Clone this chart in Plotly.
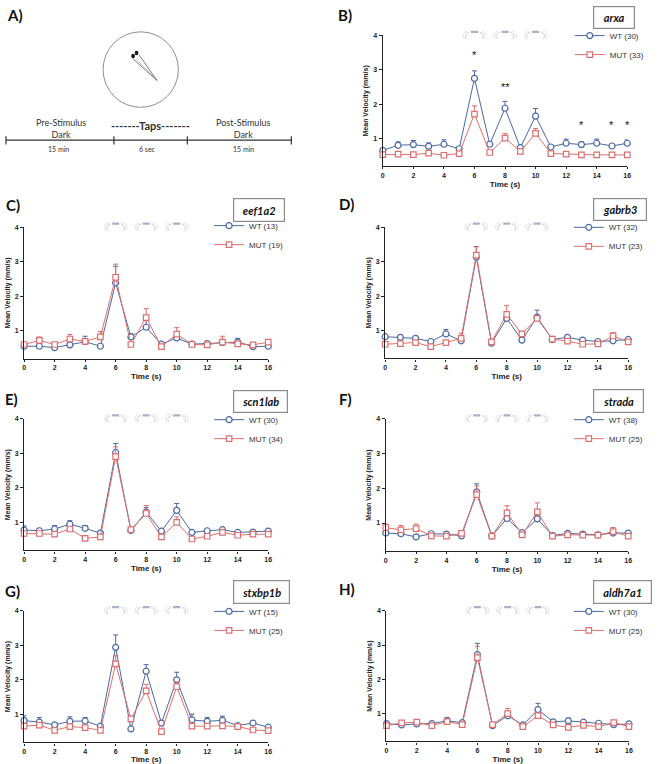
import plotly.graph_objects as go

# ---------------- data ----------------
time_s = list(range(17))
tap_times = [6, 8, 10]

genes = ["arxa", "eef1a2", "gabrb3", "scn1lab", "strada", "stxbp1b", "aldh7a1"]
panel_letters = ["B)", "C)", "D)", "E)", "F)", "G)", "H)"]
wt_n = [30, 13, 32, 30, 38, 15, 30]
mut_n = [33, 19, 23, 34, 25, 25, 25]

arxa_wt = [0.65, 0.80, 0.82, 0.77, 0.83, 0.70, 2.75, 0.83, 1.88, 0.73, 1.65, 0.75, 0.86, 0.82, 0.86, 0.78, 0.86]
arxa_wt_sem = [0.05, 0.10, 0.12, 0.10, 0.13, 0.05, 0.22, 0.07, 0.20, 0.06, 0.22, 0.05, 0.12, 0.08, 0.12, 0.05, 0.10]
arxa_mut = [0.53, 0.54, 0.53, 0.57, 0.51, 0.56, 1.71, 0.59, 1.01, 0.62, 1.15, 0.56, 0.54, 0.52, 0.52, 0.52, 0.52]
arxa_mut_sem = [0.03, 0.03, 0.03, 0.03, 0.03, 0.03, 0.24, 0.03, 0.13, 0.03, 0.14, 0.03, 0.03, 0.03, 0.03, 0.03, 0.03]

eef1a2_wt = [0.55, 0.55, 0.51, 0.59, 0.68, 0.55, 2.39, 0.82, 1.10, 0.61, 0.79, 0.61, 0.63, 0.66, 0.67, 0.54, 0.55]
eef1a2_wt_sem = [0.03, 0.03, 0.03, 0.04, 0.16, 0.04, 0.48, 0.09, 0.20, 0.04, 0.07, 0.08, 0.06, 0.06, 0.11, 0.03, 0.05]
eef1a2_mut = [0.60, 0.72, 0.60, 0.76, 0.69, 0.82, 2.55, 0.60, 1.38, 0.54, 0.90, 0.60, 0.59, 0.67, 0.62, 0.59, 0.67]
eef1a2_mut_sem = [0.03, 0.10, 0.03, 0.13, 0.05, 0.16, 0.38, 0.05, 0.26, 0.03, 0.19, 0.04, 0.04, 0.17, 0.06, 0.03, 0.06]

gabrb3_wt = [0.82, 0.80, 0.77, 0.68, 0.90, 0.70, 3.13, 0.63, 1.35, 0.72, 1.39, 0.74, 0.80, 0.72, 0.68, 0.70, 0.74]
gabrb3_wt_sem = [0.04, 0.06, 0.04, 0.03, 0.13, 0.03, 0.31, 0.03, 0.20, 0.03, 0.20, 0.03, 0.05, 0.03, 0.03, 0.03, 0.04]
gabrb3_mut = [0.60, 0.62, 0.65, 0.53, 0.65, 0.77, 3.19, 0.67, 1.47, 0.90, 1.35, 0.75, 0.69, 0.60, 0.61, 0.84, 0.67]
gabrb3_mut_sem = [0.03, 0.03, 0.03, 0.03, 0.03, 0.15, 0.24, 0.04, 0.26, 0.05, 0.05, 0.03, 0.03, 0.03, 0.03, 0.10, 0.03]

scn1lab_wt = [0.78, 0.76, 0.81, 0.95, 0.83, 0.69, 3.03, 0.77, 1.30, 0.75, 1.35, 0.71, 0.76, 0.79, 0.71, 0.72, 0.75]
scn1lab_wt_sem = [0.12, 0.07, 0.10, 0.10, 0.08, 0.04, 0.26, 0.03, 0.13, 0.05, 0.20, 0.04, 0.05, 0.05, 0.04, 0.05, 0.05]
scn1lab_mut = [0.68, 0.68, 0.66, 0.81, 0.54, 0.58, 2.91, 0.79, 1.26, 0.58, 1.00, 0.52, 0.60, 0.71, 0.63, 0.66, 0.66]
scn1lab_mut_sem = [0.03, 0.03, 0.03, 0.03, 0.03, 0.03, 0.28, 0.03, 0.23, 0.03, 0.16, 0.03, 0.03, 0.03, 0.03, 0.03, 0.03]

strada_wt = [0.71, 0.69, 0.60, 0.69, 0.68, 0.63, 1.90, 0.63, 1.13, 0.72, 1.12, 0.64, 0.70, 0.68, 0.66, 0.71, 0.71]
strada_wt_sem = [0.04, 0.04, 0.03, 0.05, 0.05, 0.03, 0.23, 0.03, 0.10, 0.04, 0.08, 0.03, 0.05, 0.04, 0.04, 0.05, 0.06]
strada_mut = [0.87, 0.80, 0.84, 0.63, 0.62, 0.70, 1.82, 0.62, 1.29, 0.66, 1.32, 0.62, 0.66, 0.65, 0.65, 0.75, 0.62]
strada_mut_sem = [0.10, 0.13, 0.13, 0.03, 0.03, 0.05, 0.25, 0.03, 0.21, 0.03, 0.26, 0.03, 0.03, 0.03, 0.03, 0.12, 0.03]

stxbp1b_wt = [0.82, 0.78, 0.70, 0.80, 0.81, 0.66, 2.94, 0.58, 2.25, 0.75, 2.00, 0.84, 0.80, 0.83, 0.68, 0.75, 0.63]
stxbp1b_wt_sem = [0.14, 0.13, 0.05, 0.13, 0.10, 0.03, 0.36, 0.03, 0.19, 0.05, 0.22, 0.17, 0.11, 0.12, 0.04, 0.03, 0.03]
stxbp1b_mut = [0.66, 0.69, 0.54, 0.65, 0.62, 0.54, 2.46, 0.87, 1.68, 0.50, 1.80, 0.66, 0.66, 0.67, 0.65, 0.55, 0.53]
stxbp1b_mut_sem = [0.03, 0.03, 0.03, 0.03, 0.06, 0.03, 0.24, 0.06, 0.19, 0.03, 0.14, 0.03, 0.03, 0.03, 0.03, 0.03, 0.03]

aldh7a1_wt = [0.71, 0.67, 0.70, 0.71, 0.79, 0.74, 2.72, 0.65, 0.94, 0.67, 1.12, 0.76, 0.79, 0.75, 0.72, 0.68, 0.70]
aldh7a1_wt_sem = [0.06, 0.04, 0.04, 0.04, 0.10, 0.03, 0.33, 0.03, 0.12, 0.03, 0.18, 0.04, 0.08, 0.04, 0.03, 0.03, 0.04]
aldh7a1_mut = [0.65, 0.73, 0.75, 0.65, 0.77, 0.68, 2.63, 0.68, 1.00, 0.62, 0.94, 0.67, 0.60, 0.66, 0.62, 0.74, 0.62]
aldh7a1_mut_sem = [0.03, 0.03, 0.03, 0.03, 0.03, 0.03, 0.33, 0.03, 0.15, 0.03, 0.08, 0.03, 0.03, 0.03, 0.03, 0.03, 0.03]

arxa_sig_x = [6, 8, 13, 15, 16]
arxa_sig_y = [3.42, 2.5, 1.38, 1.38, 1.38]
arxa_sig_text = ["*", "**", "*", "*", "*"]

wt_series = [arxa_wt, eef1a2_wt, gabrb3_wt, scn1lab_wt, strada_wt, stxbp1b_wt, aldh7a1_wt]
wt_sems = [arxa_wt_sem, eef1a2_wt_sem, gabrb3_wt_sem, scn1lab_wt_sem, strada_wt_sem, stxbp1b_wt_sem, aldh7a1_wt_sem]
mut_series = [arxa_mut, eef1a2_mut, gabrb3_mut, scn1lab_mut, strada_mut, stxbp1b_mut, aldh7a1_mut]
mut_sems = [arxa_mut_sem, eef1a2_mut_sem, gabrb3_mut_sem, scn1lab_mut_sem, strada_mut_sem, stxbp1b_mut_sem, aldh7a1_mut_sem]

# ---------------- layout / style ----------------
W, H = 658, 764
WT_COLOR = "#4a68a3"
MUT_COLOR = "#dd6f6f"
AXIS_FONT = "Liberation Sans, Arial, sans-serif"
LABEL_FONT = "Lato, Open Sans, sans-serif"


def fx(p):
    return p / W


def fy(p):
    return 1 - p / H


# plot area pixel boxes: left, right, top, bottom
panel_px = [
    (384.3, 631.0, 31.7, 163.3),
    (22.3, 268.7, 224.7, 357.0),
    (386.7, 632.0, 224.7, 356.7),
    (22.3, 268.7, 417.7, 550.0),
    (387.3, 632.0, 417.7, 550.7),
    (22.3, 268.7, 610.7, 743.3),
    (388.0, 632.7, 610.7, 742.3),
]
# gene name box: left, right, top, bottom
box_px = [
    (597, 639, 2, 25),
    (233, 285, 195, 219),
    (597, 651, 195, 218),
    (233, 288, 389, 412),
    (597, 648, 388, 412),
    (233, 290, 580, 604),
    (597, 656, 580, 604),
]
# legend text start x, first-row centre y
legend_px = [
    (608, 32.7),
    (244, 224),
    (607, 225.7),
    (244, 419.3),
    (607, 419.3),
    (244, 612.3),
    (607, 612.3),
]
# panel letter left, centre y
letter_px = [(337, 11), (2, 202), (338, 201), (1, 398), (338, 398), (1, 591), (338, 589)]

fig = go.Figure()
shapes = []
annotations = []
layout_extra = {}

for i, gene in enumerate(genes):
    n = i + 1
    xa = "x" if n == 1 else f"x{n}"
    ya = "y" if n == 1 else f"y{n}"
    lg = "legend" if n == 1 else f"legend{n}"
    l, r, t, b = panel_px[i]

    fig.add_trace(go.Scatter(
        x=time_s, y=wt_series[i], xaxis=xa, yaxis=ya, legend=lg,
        name=f"WT ({wt_n[i]})", mode="lines+markers", cliponaxis=False,
        line=dict(color=WT_COLOR, width=1),
        marker=dict(symbol="circle", size=6, color="white", line=dict(color=WT_COLOR, width=1.2)),
        error_y=dict(type="data", symmetric=False, array=wt_sems[i], arrayminus=[0] * len(time_s),
                     color=WT_COLOR, thickness=1, width=2.5),
    ))
    fig.add_trace(go.Scatter(
        x=time_s, y=mut_series[i], xaxis=xa, yaxis=ya, legend=lg,
        name=f"MUT ({mut_n[i]})", mode="lines+markers", cliponaxis=False,
        line=dict(color=MUT_COLOR, width=1),
        marker=dict(symbol="square", size=5.5, color="white", line=dict(color=MUT_COLOR, width=1.2)),
        error_y=dict(type="data", symmetric=False, array=mut_sems[i], arrayminus=[0] * len(time_s),
                     color=MUT_COLOR, thickness=1, width=2.5),
    ))

    xkey = "xaxis" if n == 1 else f"xaxis{n}"
    ykey = "yaxis" if n == 1 else f"yaxis{n}"
    layout_extra[xkey] = dict(
        domain=[fx(l), fx(r)], anchor=ya, range=[0, 16],
        tickvals=list(range(0, 17, 2)), ticks="outside", ticklen=2, tickwidth=1,
        tickcolor="#222", showline=True, linewidth=1.3, linecolor="#222",
        showgrid=False, zeroline=False,
        tickfont=dict(family=AXIS_FONT, size=7, color="#222", weight="bold"),
        title=dict(text="Time (s)", standoff=3,
                   font=dict(family=AXIS_FONT, size=8, color="#222", weight="bold")),
    )
    layout_extra[ykey] = dict(
        domain=[fy(b), fy(t)], anchor=xa, range=[0.19, 4],
        tickvals=[1, 2, 3, 4], ticks="outside", ticklen=3, tickwidth=1,
        tickcolor="#222", showline=True, linewidth=1.3, linecolor="#222",
        showgrid=False, zeroline=False,
        tickfont=dict(family=AXIS_FONT, size=7, color="#222", weight="bold"),
        title=dict(text="Mean Velocity (mm/s)", standoff=3,
                   font=dict(family=AXIS_FONT, size=7, color="#222", weight="bold")),
    )

    tx0, my = legend_px[i]
    layout_extra[lg] = dict(
        x=fx(tx0 - 35), y=fy(my - 15.5), xanchor="left", yanchor="top",
        bgcolor="rgba(0,0,0,0)", borderwidth=0, itemwidth=30, tracegroupgap=0,
        font=dict(family=AXIS_FONT, size=8, color="#333"),
    )

    # gene name box
    bl, br, bt, bb = box_px[i]
    annotations.append(dict(
        xref="paper", yref="paper", x=fx((bl + br) / 2), y=fy((bt + bb) / 2),
        xanchor="center", yanchor="middle", showarrow=False,
        text=gene, width=br - bl - 2, height=bb - bt - 2, borderpad=0,
        bordercolor="#8c8c8c", borderwidth=1.2, bgcolor="white",
        font=dict(family=LABEL_FONT, size=11, color="#111", weight="bold", style="italic"),
    ))
    # panel letter
    lx, ly = letter_px[i]
    annotations.append(dict(
        xref="paper", yref="paper", x=fx(lx), y=fy(ly), xanchor="left", yanchor="middle",
        showarrow=False, text=panel_letters[i],
        font=dict(family=LABEL_FONT, size=15, color="#111", weight="bold"),
    ))

    # tap icons above each tap time
    yd = f"{ya} domain"
    h_dom = b - t
    for tt in tap_times:
        shapes.append(dict(
            type="rect", xref=xa, yref=yd, x0=tt - 0.23, x1=tt + 0.23,
            y0=1 + 2.4 / h_dom, y1=1 + 4.8 / h_dom,
            fillcolor="#a9b3c5", line=dict(width=0),
        ))
        for sgn in (-1, 1):
            path = (f"M {tt + sgn * 0.33},{1 + 3.6 / h_dom} "
                    f"Q {tt + sgn * 0.75},{1 + 1.0 / h_dom} {tt + sgn * 0.5},{1 - 3.2 / h_dom}")
            shapes.append(dict(type="path", xref=xa, yref=yd, path=path,
                               line=dict(color="#cdcdcd", width=1)))
            path2 = (f"M {tt + sgn * 0.45},{1 + 5.0 / h_dom} "
                     f"Q {tt + sgn * 0.95},{1 + 1.5 / h_dom} {tt + sgn * 0.62},{1 - 3.6 / h_dom}")
            shapes.append(dict(type="path", xref=xa, yref=yd, path=path2,
                               line=dict(color="#dedede", width=0.8)))

# significance marks (arxa)
for sx, sy, st in zip(arxa_sig_x, arxa_sig_y, arxa_sig_text):
    annotations.append(dict(
        xref="x", yref="y", x=sx, y=sy, text=st, showarrow=False,
        xanchor="center", yanchor="middle",
        font=dict(family=AXIS_FONT, size=11, color="#111"),
    ))

# ---------------- panel A schematic ----------------
annotations.append(dict(
    xref="paper", yref="paper", x=fx(3), y=fy(11), xanchor="left", yanchor="middle",
    showarrow=False, text="A)", font=dict(family=LABEL_FONT, size=15, color="#111", weight="bold"),
))
shapes.append(dict(type="circle", xref="paper", yref="paper",
                   x0=fx(102), x1=fx(178), y0=fy(104), y1=fy(28),
                   line=dict(color="#8f8f8f", width=1)))
# larva
shapes.append(dict(type="path", xref="paper", yref="paper",
                   path=f"M {fx(132)},{fy(55)} L {fx(156.5)},{fy(77)} L {fx(138.5)},{fy(51.5)}",
                   line=dict(color="#444", width=0.7)))
shapes.append(dict(type="path", xref="paper", yref="paper",
                   path=f"M {fx(135)},{fy(55)} L {fx(155)},{fy(75)}",
                   line=dict(color="#888", width=0.5)))
for ex, ey in [(132.3, 52.3), (135.8, 49.3)]:
    shapes.append(dict(type="circle", xref="paper", yref="paper",
                       x0=fx(ex - 1.9), x1=fx(ex + 1.9), y0=fy(ey + 2.3), y1=fy(ey - 2.3),
                       fillcolor="#1a1a1a", line=dict(width=0)))
# timeline
shapes.append(dict(type="line", xref="paper", yref="paper",
                   x0=fx(4), x1=fx(292), y0=fy(137), y1=fy(137),
                   line=dict(color="#333", width=1.2)))
for tx in [4, 113, 187, 292]:
    shapes.append(dict(type="line", xref="paper", yref="paper",
                       x0=fx(tx), x1=fx(tx), y0=fy(133), y1=fy(141.5),
                       line=dict(color="#333", width=1.2)))

schematic_texts = [
    ("Pre-Stimulus<br>Dark", 60, 125, 9, "normal"),
    ("-------Taps-------", 150, 122, 11, "bold"),
    ("Post-Stimulus<br>Dark", 244, 125, 9, "normal"),
    ("15 min", 57, 146, 7, "normal"),
    ("6 sec", 147, 146, 7, "normal"),
    ("15 min", 244, 146, 7, "normal"),
]
for txt, tx, ty, fs, wgt in schematic_texts:
    annotations.append(dict(
        xref="paper", yref="paper", x=fx(tx), y=fy(ty), xanchor="center", yanchor="middle",
        showarrow=False, text=txt,
        font=dict(family=LABEL_FONT, size=fs, color="#333", weight=wgt),
    ))

fig.update_layout(
    width=W, height=H, margin=dict(l=0, r=0, t=0, b=0),
    paper_bgcolor="white", plot_bgcolor="white",
    showlegend=True, shapes=shapes, annotations=annotations,
    **layout_extra,
)

fig.write_html(
    "out.html",
    config={"displayModeBar": False},
    post_script="document.body.style.margin='0';document.body.style.overflow='hidden';",
)
